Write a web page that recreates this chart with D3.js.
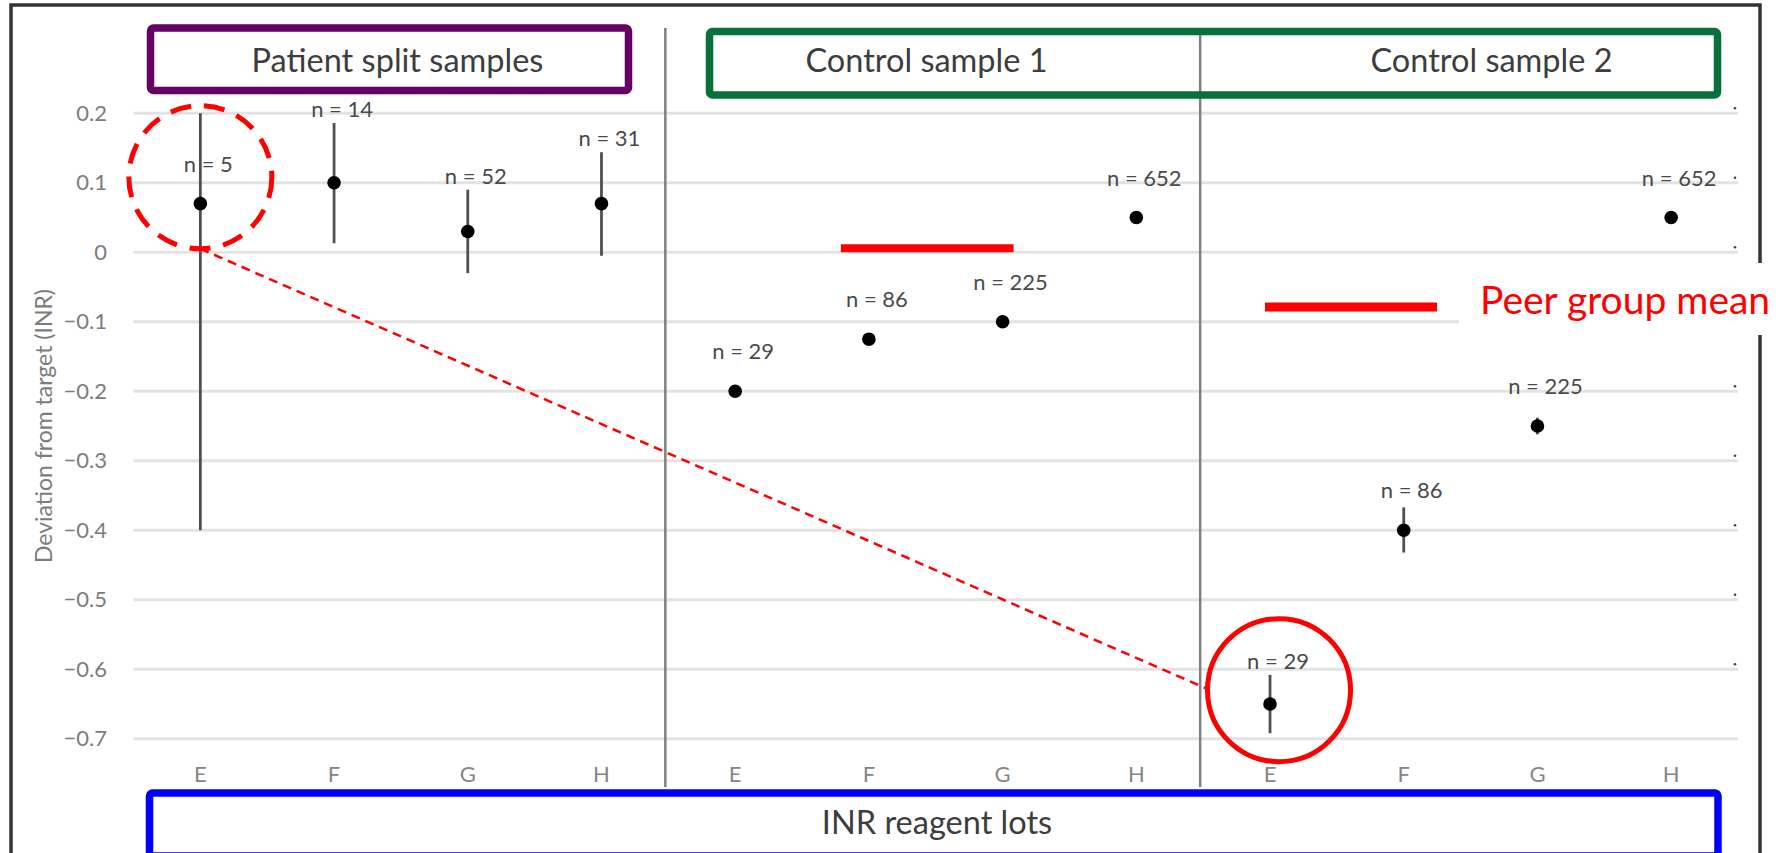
<!DOCTYPE html>
<html>
<head>
<meta charset="utf-8">
<title>INR reagent lots</title>
<script src="https://d3js.org/d3.v7.min.js"></script>
<style>
  body { margin: 0; background: #fff; }
  svg text { font-family: Lato, "Open Sans", sans-serif; }
</style>
</head>
<body>
<div id="chart"></div>
<script>
// sample groups and reagent lots
var groupNames = ["Patient split samples", "Control sample 1", "Control sample 2"];
var lotNames = ["E", "F", "G", "H"];

// deviation from target (INR)
var patientMean = [0.07, 0.10, 0.03, 0.07];
var patientLow  = [-0.40, 0.013, -0.03, -0.005];
var patientHigh = [0.20, 0.186, 0.09, 0.144];
var patientN    = [5, 14, 52, 31];

var control1Mean = [-0.20, -0.125, -0.10, 0.05];
var control1Low  = [-0.20, -0.125, -0.10, 0.05];
var control1High = [-0.20, -0.125, -0.10, 0.05];
var control1N    = [29, 86, 225, 652];

var control2Mean = [-0.65, -0.40, -0.25, 0.05];
var control2Low  = [-0.692, -0.432, -0.262, 0.05];
var control2High = [-0.608, -0.367, -0.238, 0.05];
var control2N    = [29, 86, 225, 652];

var yTicks = [0.2, 0.1, 0, -0.1, -0.2, -0.3, -0.4, -0.5, -0.6, -0.7];
var peerGroupMean = 0.006;

// circled points (group, lot, value at circle centre)
var highlightGroup = [0, 2];
var highlightLot = ["E", "E"];
var highlightValue = [0.108, -0.63];

var W = 1781, H = 853;

var means = [patientMean, control1Mean, control2Mean];
var lows = [patientLow, control1Low, control2Low];
var highs = [patientHigh, control1High, control2High];
var counts = [patientN, control1N, control2N];

var rows = [];
groupNames.forEach(function(g, gi) {
    lotNames.forEach(function(l, li) {
        rows.push({ key: gi + "-" + l, group: gi, lot: l,
            mean: means[gi][li], lo: lows[gi][li], hi: highs[gi][li], n: counts[gi][li] });
    });
});

var svg = d3.select("#chart").append("svg")
    .attr("width", W).attr("height", H);

var x = d3.scaleBand()
    .domain(rows.map(function(d) { return d.key; }))
    .range([133.5, 1738]);
var bw = x.bandwidth();
function cx(key) { return x(key) + bw / 2; }

var y = d3.scaleLinear().domain([-0.7, 0.2]).range([738.8, 113.3]);

// outer frame
svg.append("rect")
    .attr("x", 11).attr("y", 5).attr("width", 1749).attr("height", 900)
    .attr("fill", "none").attr("stroke", "#333").attr("stroke-width", 3.5);

// gridlines
svg.append("g").selectAll("line").data(yTicks).enter().append("line")
    .attr("x1", x.range()[0]).attr("x2", x.range()[1])
    .attr("y1", function(d) { return y(d); }).attr("y2", function(d) { return y(d); })
    .attr("stroke", "#e3e3e3").attr("stroke-width", 3);

// little specks at the right end of the gridlines
svg.append("g").selectAll("circle").data(yTicks.filter(function(d) { return d > -0.65; }))
    .enter().append("circle")
    .attr("cx", 1735).attr("cy", function(d) { return y(d) - 5; })
    .attr("r", 1.3).attr("fill", "#444");

// y axis
var yAxis = svg.append("g")
    .attr("transform", "translate(117,0)")
    .call(d3.axisLeft(y).tickValues(yTicks).tickSize(0).tickPadding(10)
        .tickFormat(d3.format(".1~f")));
yAxis.select(".domain").remove();
yAxis.selectAll("text").attr("font-size", 22).attr("fill", "#7c7c7c")
    .style("font-family", "Lato");

// x axis
var xAxis = svg.append("g")
    .attr("transform", "translate(0,766)")
    .call(d3.axisBottom(x).tickSize(0).tickPadding(0)
        .tickFormat(function(k) { return k.split("-")[1]; }));
xAxis.select(".domain").remove();
xAxis.selectAll("text").attr("font-size", 22).attr("fill", "#858585")
    .style("font-family", "Lato");

// y axis title
svg.append("text")
    .attr("transform", "translate(43," + ((y.range()[0] + y.range()[1]) / 2) + ") rotate(-90)")
    .attr("text-anchor", "middle").attr("dominant-baseline", "central")
    .attr("font-size", 23).attr("fill", "#7c7c7c")
    .text("Deviation from target (INR)");

// dividers between sample groups
[4, 8].forEach(function(i) {
    var xx = x(rows[i].key) - 3;
    svg.append("line")
        .attr("x1", xx).attr("x2", xx).attr("y1", 28).attr("y2", 787)
        .attr("stroke", "#808080").attr("stroke-width", 2.5);
});

// group boxes
svg.append("rect").attr("x", 150.5).attr("y", 28).attr("width", 478).attr("height", 62.5)
    .attr("rx", 3).attr("fill", "none").attr("stroke", "#660066").attr("stroke-width", 7.5);
svg.append("rect").attr("x", 709.5).attr("y", 31.5).attr("width", 1008).attr("height", 63.5)
    .attr("rx", 3).attr("fill", "none").attr("stroke", "#06723a").attr("stroke-width", 7.5);
svg.append("rect").attr("x", 149.5).attr("y", 793).attr("width", 1568.5).attr("height", 63)
    .attr("rx", 3).attr("fill", "none").attr("stroke", "#0000ff").attr("stroke-width", 7.5);

var boxTitles = [
    { t: groupNames[0], x: 397.5, y: 72 },
    { t: groupNames[1], x: 926.5, y: 72 },
    { t: groupNames[2], x: 1491.5, y: 72 },
    { t: "INR reagent lots", x: 937, y: 833.5 }
];
svg.append("g").selectAll("text").data(boxTitles).enter().append("text")
    .attr("x", function(d) { return d.x; }).attr("y", function(d) { return d.y; })
    .attr("text-anchor", "middle").attr("font-size", 32.5).attr("fill", "#3d3d3d")
    .text(function(d) { return d.t; });

// peer group mean for control sample 1
svg.append("line")
    .attr("x1", cx("1-F") - 28).attr("x2", cx("1-G") + 11)
    .attr("y1", y(peerGroupMean)).attr("y2", y(peerGroupMean))
    .attr("stroke", "#ff0000").attr("stroke-width", 8);

// error bars
svg.append("g").selectAll("line").data(rows.filter(function(d) { return d.hi > d.lo; }))
    .enter().append("line")
    .attr("x1", function(d) { return cx(d.key); }).attr("x2", function(d) { return cx(d.key); })
    .attr("y1", function(d) { return y(d.hi); }).attr("y2", function(d) { return y(d.lo); })
    .attr("stroke", "#505050").attr("stroke-width", 2.8);

// points
svg.append("g").selectAll("circle").data(rows).enter().append("circle")
    .attr("cx", function(d) { return cx(d.key); })
    .attr("cy", function(d) { return y(d.mean); })
    .attr("r", 6.8).attr("fill", "#000");

// n labels
svg.append("g").selectAll("text").data(rows).enter().append("text")
    .attr("x", function(d) { return cx(d.key) + 8; })
    .attr("y", function(d) {
        var c = d.hi >= y.domain()[1] ? y(d.mean) - 40 : Math.min(y(d.mean) - 40, y(d.hi) - 14);
        return c + 8;
    })
    .attr("text-anchor", "middle").attr("font-size", 22).attr("fill", "#4a4a4a")
    .text(function(d) { return "n = " + d.n; });

// highlight circles and connecting dashed line
var h0 = { x: cx(highlightGroup[0] + "-" + highlightLot[0]), y: y(highlightValue[0]) };
var h1 = { x: cx(highlightGroup[1] + "-" + highlightLot[1]) + 9, y: y(highlightValue[1]) };
var r = 71.5;

svg.append("line")
    .attr("x1", h0.x).attr("y1", h0.y + r)
    .attr("x2", h1.x - r - 2).attr("y2", h1.y - 2)
    .attr("stroke", "#ff0000").attr("stroke-width", 2.5).attr("stroke-dasharray", "9 6");
svg.append("circle")
    .attr("cx", h0.x).attr("cy", h0.y).attr("r", r)
    .attr("fill", "none").attr("stroke", "#ff0000").attr("stroke-width", 5)
    .attr("stroke-dasharray", "21 13");
svg.append("circle")
    .attr("cx", h1.x).attr("cy", h1.y).attr("r", r)
    .attr("fill", "none").attr("stroke", "#ff0000").attr("stroke-width", 5);

// legend
svg.append("rect").attr("x", 1459).attr("y", 263).attr("width", 330).attr("height", 72)
    .attr("fill", "#fff");
svg.append("line").attr("x1", 1265).attr("x2", 1437).attr("y1", 307).attr("y2", 307)
    .attr("stroke", "#ff0000").attr("stroke-width", 9);
svg.append("text").attr("x", 1480).attr("y", 314)
    .attr("font-size", 39).attr("fill", "#ff0000")
    .text("Peer group mean");
</script>
</body>
</html>
